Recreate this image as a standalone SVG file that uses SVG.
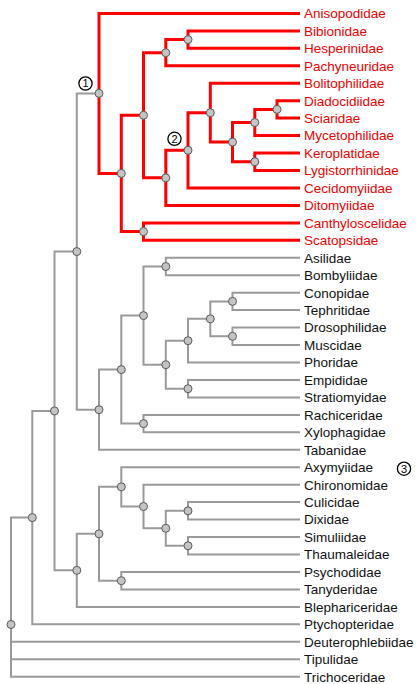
<svg xmlns="http://www.w3.org/2000/svg" width="420" height="684" viewBox="0 0 420 684">
<style>
.g{fill:none;stroke:#9a9a9a;stroke-width:2;stroke-linejoin:miter}
.r{fill:none;stroke:#ff0000;stroke-width:3;stroke-linejoin:miter}
.n circle{fill:#c4c4c4;stroke:#5a5a5a;stroke-width:1}
.t{font-family:"Liberation Sans",Arial,sans-serif;font-size:13.5px}
.tr{fill:#f00000}
.tb{fill:#111}
.lab circle{fill:#fff;stroke:#000;stroke-width:1.3}
.lab text{font-family:"Liberation Sans",Arial,sans-serif;font-size:11px;fill:#000;text-anchor:middle}
</style>
<rect width="420" height="684" fill="#fff"/>
<g id="connectors">
<g class="g">
<path d="M99 93.4H76.8V409.7H99"/>
<path d="M121.3 369.6H99V449.8H300"/>
<path d="M143.5 315.6H121.3V423.6H143.5"/>
<path d="M300 414.9H143.5V432.3H300"/>
<path d="M165.8 266.5H143.5V364.7H165.8"/>
<path d="M300 257.8H165.8V275.2H300"/>
<path d="M188 340.7H165.8V388.7H188"/>
<path d="M300 380H188V397.4H300"/>
<path d="M210.3 318.85H188V362.5H300"/>
<path d="M232.5 301.4H210.3V336.3H232.5"/>
<path d="M300 292.7H232.5V310.1H300"/>
<path d="M300 327.6H232.5V345H300"/>
<path d="M54.5 410.95H32.3V624.3H300"/>
<path d="M76.8 251.55H54.5V570.35H76.8"/>
<path d="M99 533.8H76.8V606.9H300"/>
<path d="M121.3 486.85H99V580.7H121.3"/>
<path d="M300 572H121.3V589.4H300"/>
<path d="M300 467.2H121.3V506.5H143.5"/>
<path d="M300 484.7H143.5V528.3H165.8"/>
<path d="M188 510.85H165.8V545.75H188"/>
<path d="M300 502.1H188V519.6H300"/>
<path d="M300 537H188V554.5H300"/>
<path d="M32.3 517.6H11V676.7H300"/>
<path d="M11 641.8H300"/>
<path d="M11 659.2H300"/>
</g>
<g class="r">
<path d="M300 13.4H99V173.45H121.3"/>
<path d="M143.5 115.3H121.3V231.6H143.5"/>
<path d="M165.8 52.7H143.5V177.85H165.8"/>
<path d="M188 39.6H165.8V65.8H300"/>
<path d="M300 30.9H188V48.3H300"/>
<path d="M188 150.3H165.8V205.4H300"/>
<path d="M210.3 112.7H188V187.9H300"/>
<path d="M300 83.2H210.3V142.1H232.5"/>
<path d="M254.8 122.5H232.5V161.75H254.8"/>
<path d="M277 109.4H254.8V135.6H300"/>
<path d="M300 100.7H277V118.1H300"/>
<path d="M300 153H254.8V170.5H300"/>
<path d="M300 222.9H143.5V240.3H300"/>
</g>
</g>
<g class="n">
<g id="n-diptera-root"><circle cx="11" cy="624.5" r="4"/></g>
<g id="n-h-j"><circle cx="32.3" cy="517.6" r="4"/></g>
<g id="n-h-i"><circle cx="54.5" cy="410.95" r="4"/></g>
<g id="n-g-l"><circle cx="76.8" cy="251.55" r="4"/></g>
<g id="n-1"><circle cx="99" cy="93.4" r="4"/></g>
<g id="n-red-l"><circle cx="121.3" cy="173.45" r="4"/></g>
<g id="n-red-j"><circle cx="143.5" cy="115.3" r="4"/></g>
<g id="n-red-k"><circle cx="143.5" cy="231.6" r="4"/></g>
<g id="n-red-i"><circle cx="165.8" cy="52.7" r="4"/></g>
<g id="n-red-h"><circle cx="188" cy="39.6" r="4"/></g>
<g id="n-red-g"><circle cx="165.8" cy="177.85" r="4"/></g>
<g id="n-2"><circle cx="188" cy="150.3" r="4"/></g>
<g id="n-red-e"><circle cx="210.3" cy="112.7" r="4"/></g>
<g id="n-red-d"><circle cx="232.5" cy="142.1" r="4"/></g>
<g id="n-red-b"><circle cx="254.8" cy="122.5" r="4"/></g>
<g id="n-red-c"><circle cx="254.8" cy="161.75" r="4"/></g>
<g id="n-red-a"><circle cx="277" cy="109.4" r="4"/></g>
<g id="n-g-k"><circle cx="99" cy="409.7" r="4"/></g>
<g id="n-g-j"><circle cx="121.3" cy="369.6" r="4"/></g>
<g id="n-g-h"><circle cx="143.5" cy="315.6" r="4"/></g>
<g id="n-g-i"><circle cx="143.5" cy="423.6" r="4"/></g>
<g id="n-g-g"><circle cx="165.8" cy="266.5" r="4"/></g>
<g id="n-g-f"><circle cx="165.8" cy="364.7" r="4"/></g>
<g id="n-g-d"><circle cx="188" cy="340.7" r="4"/></g>
<g id="n-g-e"><circle cx="188" cy="388.7" r="4"/></g>
<g id="n-g-c"><circle cx="210.3" cy="318.85" r="4"/></g>
<g id="n-g-a"><circle cx="232.5" cy="301.4" r="4"/></g>
<g id="n-g-b"><circle cx="232.5" cy="336.3" r="4"/></g>
<g id="n-h-h"><circle cx="76.8" cy="570.35" r="4"/></g>
<g id="n-h-g"><circle cx="99" cy="533.8" r="4"/></g>
<g id="n-h-e"><circle cx="121.3" cy="486.85" r="4"/></g>
<g id="n-h-f"><circle cx="121.3" cy="580.7" r="4"/></g>
<g id="n-h-d"><circle cx="143.5" cy="506.5" r="4"/></g>
<g id="n-h-c"><circle cx="165.8" cy="528.3" r="4"/></g>
<g id="n-h-a"><circle cx="188" cy="510.85" r="4"/></g>
<g id="n-h-b"><circle cx="188" cy="545.75" r="4"/></g>
</g>
<g id="labels" class="t">
<g class="tr">
<text x="304" y="18.2">Anisopodidae</text>
<text x="304" y="35.7">Bibionidae</text>
<text x="304" y="53.1">Hesperinidae</text>
<text x="304" y="70.6">Pachyneuridae</text>
<text x="304" y="88">Bolitophilidae</text>
<text x="304" y="105.5">Diadocidiidae</text>
<text x="304" y="122.9">Sciaridae</text>
<text x="304" y="140.4">Mycetophilidae</text>
<text x="304" y="157.8">Keroplatidae</text>
<text x="304" y="175.3">Lygistorrhinidae</text>
<text x="304" y="192.7">Cecidomyiidae</text>
<text x="304" y="210.2">Ditomyiidae</text>
<text x="304" y="227.7">Canthyloscelidae</text>
<text x="304" y="245.1">Scatopsidae</text>
</g>
<g class="tb">
<text x="304" y="262.6">Asilidae</text>
<text x="304" y="280">Bombyliidae</text>
<text x="304" y="297.5">Conopidae</text>
<text x="304" y="314.9">Tephritidae</text>
<text x="304" y="332.4">Drosophilidae</text>
<text x="304" y="349.8">Muscidae</text>
<text x="304" y="367.3">Phoridae</text>
<text x="304" y="384.8">Empididae</text>
<text x="304" y="402.2">Stratiomyidae</text>
<text x="304" y="419.7">Rachiceridae</text>
<text x="304" y="437.1">Xylophagidae</text>
<text x="304" y="454.6">Tabanidae</text>
<text x="304" y="472">Axymyiidae</text>
<text x="304" y="489.5">Chironomidae</text>
<text x="304" y="506.9">Culicidae</text>
<text x="304" y="524.4">Dixidae</text>
<text x="304" y="541.8">Simuliidae</text>
<text x="304" y="559.3">Thaumaleidae</text>
<text x="304" y="576.8">Psychodidae</text>
<text x="304" y="594.2">Tanyderidae</text>
<text x="304" y="611.7">Blephariceridae</text>
<text x="304" y="629.1">Ptychopteridae</text>
<text x="304" y="646.6">Deuterophlebiidae</text>
<text x="304" y="664">Tipulidae</text>
<text x="304" y="681.5">Trichoceridae</text>
</g>
</g>
<g id="marker-1" class="lab"><circle cx="85.5" cy="83.5" r="6.6"/><text x="85.5" y="87.4">1</text></g>
<g id="marker-2" class="lab"><circle cx="174.5" cy="138.8" r="6.6"/><text x="174.5" y="142.7">2</text></g>
<g id="marker-3" class="lab"><circle cx="404" cy="468.7" r="6.6"/><text x="404" y="472.6">3</text></g>
</svg>
